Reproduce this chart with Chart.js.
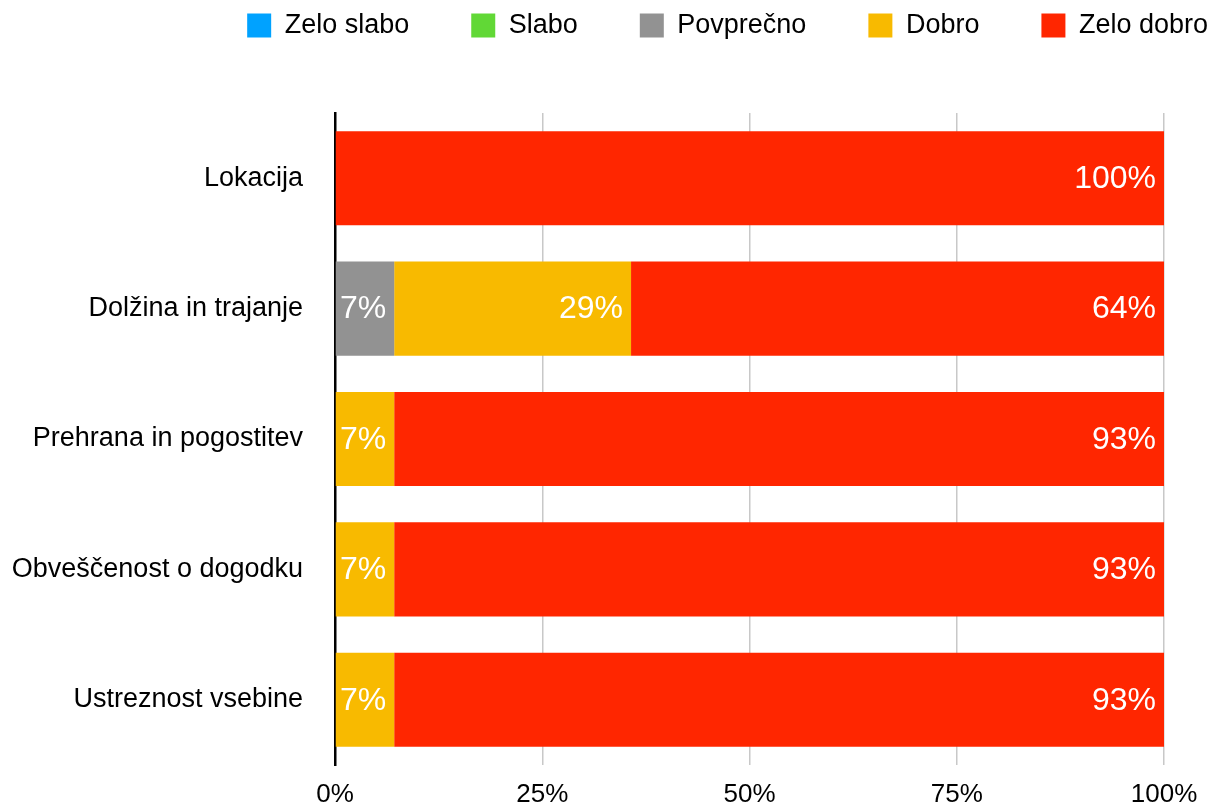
<!DOCTYPE html>
<html>
<head>
<meta charset="utf-8">
<script src="https://cdn.jsdelivr.net/npm/chart.js@4/dist/chart.umd.min.js"></script>
<style>
    html, body { margin: 0; padding: 0; background: #fff; }
    #wrap { width: 1215px; height: 807px; }
</style>
</head>
<body>
<div id="wrap"><canvas id="chart"></canvas></div>
<script>
// categories (top to bottom)
const categories = ['Lokacija', 'Dolžina in trajanje', 'Prehrana in pogostitev', 'Obveščenost o dogodku', 'Ustreznost vsebine'];

// share of answers in percent
const zeloSlabo = [0, 0, 0, 0, 0];
const slabo     = [0, 0, 0, 0, 0];
const povprecno = [0, 7.14, 0, 0, 0];
const dobro     = [0, 28.57, 7.14, 7.14, 7.14];
const zeloDobro = [100, 64.29, 92.86, 92.86, 92.86];

const seriesNames = ['Zelo slabo', 'Slabo', 'Povprečno', 'Dobro', 'Zelo dobro'];
const xTicks = [0, 25, 50, 75, 100];

const colors = {
    blue: '#00A2FF',
    green: '#61D836',
    gray: '#929292',
    yellow: '#F8BA00',
    red: '#FF2600'
};

const FONT = '"Liberation Sans", Arial, Helvetica, sans-serif';

// white value labels at the inner right end of each segment
const valueLabels = {
    id: 'valueLabels',
    afterDatasetsDraw(chart) {
        const ctx = chart.ctx;
        ctx.save();
        ctx.font = '32px ' + FONT;
        ctx.fillStyle = '#ffffff';
        ctx.textAlign = 'right';
        ctx.textBaseline = 'middle';
        chart.data.datasets.forEach((ds, i) => {
            const meta = chart.getDatasetMeta(i);
            meta.data.forEach((bar, j) => {
                const v = ds.data[j];
                if (!v) return;
                ctx.fillText(Math.round(v) + '%', bar.x - 8, bar.y + 1);
            });
        });
        ctx.restore();
    }
};

// leave room under the legend
const legendSpace = {
    id: 'legendSpace',
    beforeInit(chart) {
        const fit = chart.legend.fit;
        chart.legend.fit = function () {
            fit.bind(chart.legend)();
            this.height = 163;
        };
    }
};

const datasets = [zeloSlabo, slabo, povprecno, dobro, zeloDobro].map((data, i) => ({
    label: seriesNames[i],
    data: data,
    backgroundColor: [colors.blue, colors.green, colors.gray, colors.yellow, colors.red][i],
    borderWidth: 0,
    categoryPercentage: 1,
    barPercentage: 0.722
}));

new Chart(document.getElementById('chart'), {
    type: 'bar',
    data: { labels: categories, datasets: datasets },
    options: {
        indexAxis: 'y',
        responsive: true,
        maintainAspectRatio: false,
        animation: false,
        layout: { padding: { left: 0, right: -55, top: -50, bottom: 0 } },
        plugins: {
            legend: {
                display: true,
                position: 'top',
                align: 'end',
                labels: {
                    font: { family: FONT, size: 27 },
                    color: '#000',
                    boxWidth: 24,
                    boxHeight: 24,
                    padding: 62
                }
            },
            tooltip: { enabled: false }
        },
        scales: {
            x: {
                stacked: true,
                min: 0,
                max: 100,
                afterBuildTicks: (scale) => {
                    scale.ticks = xTicks.map(v => ({ value: v }));
                },
                afterFit: (scale) => {
                    scale.paddingRight = 51;
                    scale.paddingBottom = 0;
                    scale.height = 42;
                },
                grid: {
                    color: '#c8c8c8',
                    lineWidth: 1.5,
                    drawTicks: false
                },
                border: { display: false },
                ticks: {
                    font: { family: FONT, size: 26 },
                    color: '#000',
                    padding: 14,
                    maxRotation: 0,
                    callback: (v) => v + '%'
                }
            },
            y: {
                stacked: true,
                afterFit: (scale) => {
                    scale.width = 335;
                    scale.paddingTop = 0;
                    scale.paddingBottom = 0;
                },
                grid: { display: false, drawTicks: false },
                border: { display: true, color: '#000', width: 2.5 },
                ticks: {
                    font: { family: FONT, size: 27 },
                    color: '#000',
                    padding: 32
                }
            }
        }
    },
    plugins: [legendSpace, valueLabels]
});
</script>
</body>
</html>
